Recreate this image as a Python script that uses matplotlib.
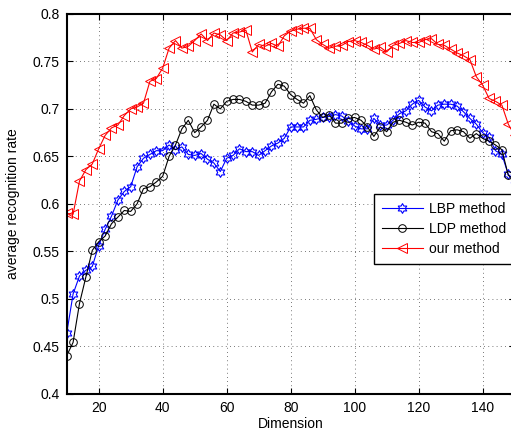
import numpy as np
import matplotlib
matplotlib.use('Agg')
import matplotlib.pyplot as plt
from matplotlib.ticker import FuncFormatter
from matplotlib.path import Path

plt.rcParams['font.family'] = ['Liberation Sans', 'DejaVu Sans']
plt.rcParams['font.size'] = 10

dims = list(range(10, 151, 2))

lbp = [0.4635, 0.505, 0.524, 0.530, 0.534, 0.556, 0.573, 0.587, 0.604, 0.613,
       0.618, 0.639, 0.648, 0.652, 0.656, 0.656, 0.662, 0.657, 0.660, 0.652,
       0.651, 0.653, 0.647, 0.643, 0.634, 0.648, 0.651, 0.658, 0.655, 0.655,
       0.651, 0.656, 0.661, 0.664, 0.669, 0.681, 0.681, 0.681, 0.688, 0.689,
       0.691, 0.692, 0.694, 0.6925, 0.687, 0.682, 0.679, 0.679, 0.690, 0.683,
       0.683, 0.688, 0.695, 0.698, 0.705, 0.709, 0.702, 0.698, 0.704, 0.705,
       0.705, 0.703, 0.697, 0.690, 0.684, 0.675, 0.670, 0.656, 0.652, 0.631,
       0.625]

ldp = [0.440, 0.454, 0.495, 0.523, 0.551, 0.560, 0.566, 0.579, 0.586, 0.593,
       0.592, 0.600, 0.616, 0.618, 0.623, 0.629, 0.650, 0.662, 0.679, 0.688,
       0.675, 0.681, 0.688, 0.705, 0.700, 0.708, 0.710, 0.710, 0.708, 0.704,
       0.704, 0.706, 0.718, 0.726, 0.724, 0.715, 0.710, 0.706, 0.714, 0.699,
       0.691, 0.694, 0.685, 0.685, 0.690, 0.691, 0.688, 0.681, 0.671, 0.681,
       0.676, 0.686, 0.688, 0.686, 0.683, 0.686, 0.685, 0.676, 0.674, 0.666,
       0.677, 0.678, 0.676, 0.669, 0.674, 0.669, 0.666, 0.662, 0.657, 0.630,
       0.625]

ours = [0.590, 0.589, 0.624, 0.636, 0.642, 0.658, 0.672, 0.680, 0.683, 0.693,
        0.700, 0.702, 0.706, 0.729, 0.732, 0.743, 0.764, 0.772, 0.764, 0.766,
        0.772, 0.779, 0.772, 0.780, 0.778, 0.772, 0.780, 0.781, 0.783, 0.760,
        0.768, 0.766, 0.769, 0.766, 0.777, 0.782, 0.784, 0.785, 0.785, 0.773,
        0.768, 0.764, 0.766, 0.767, 0.771, 0.772, 0.770, 0.767, 0.763, 0.765,
        0.760, 0.767, 0.769, 0.772, 0.770, 0.770, 0.773, 0.774, 0.768, 0.767,
        0.763, 0.759, 0.756, 0.752, 0.734, 0.725, 0.711, 0.708, 0.704, 0.684,
        0.672]

names = ['LBP method', 'LDP method', 'our method']
xticks = [20, 40, 60, 80, 100, 120, 140]
yticks = [0.4, 0.45, 0.5, 0.55, 0.6, 0.65, 0.7, 0.75, 0.8]

# matlab style hexagram
hexagram = Path.unit_regular_star(6, 0.577)

fig = plt.figure(figsize=(5.11, 4.32), dpi=100)
ax = fig.add_axes([0.1305, 0.0887, 0.8767, 0.8789])

ax.plot(dims, lbp, '-', color='b', marker=hexagram, markersize=7, mfc='none',
        mew=0.8, lw=0.8, label=names[0])
ax.plot(dims, ldp, '-', color='k', marker='o', markersize=5.5, mfc='none',
        mew=0.7, lw=0.8, label=names[1])
ax.plot(dims, ours, '-', color='r', marker='<', markersize=6.5, mfc='none',
        mew=0.7, lw=0.8, label=names[2])

ax.set_xlim(10, 150)
ax.set_ylim(0.4, 0.8)
ax.set_xticks(xticks)
ax.set_yticks(yticks)
ax.yaxis.set_major_formatter(FuncFormatter(lambda v, p: '%g' % v))
ax.grid(True, linestyle=(0, (1, 4)), color='k', lw=0.6, alpha=0.7)
ax.tick_params(direction='in', top=True, right=True, length=4, pad=5)
for s in ax.spines.values():
    s.set_linewidth(1.5)

ax.set_xlabel('Dimension', labelpad=2)
ax.set_ylabel('average recognition rate', labelpad=9)

leg = ax.legend(loc='upper left', bbox_to_anchor=(0.686, 0.526),
                borderaxespad=0, numpoints=1, handlelength=3.0,
                handletextpad=0.4, labelspacing=0.45, borderpad=0.55,
                fancybox=False, framealpha=1, edgecolor='k')
leg.get_frame().set_linewidth(1.0)

fig.savefig('out.png', dpi=100)
